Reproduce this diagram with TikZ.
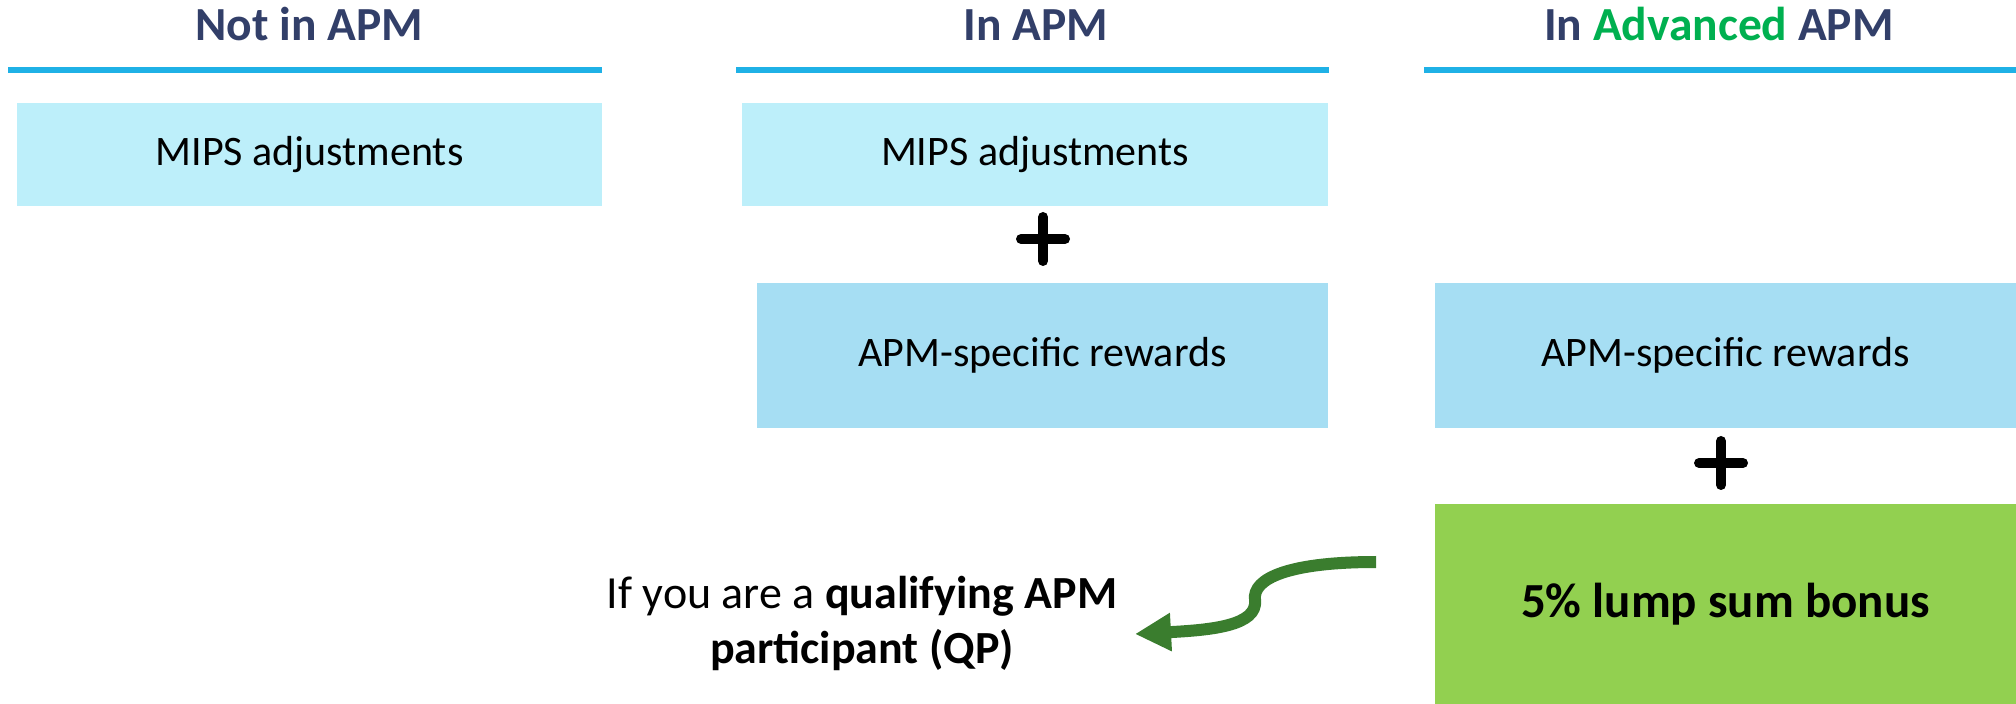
\documentclass[tikz,border=0pt]{standalone}
\usepackage{fontspec}
\setmainfont{Carlito}
\usepackage{xcolor}
\usetikzlibrary{arrows.meta}

\definecolor{titlenavy}{HTML}{323F69}
\definecolor{advgreen}{HTML}{00B050}
\definecolor{ruleblue}{HTML}{1FB1E6}
\definecolor{mipsfill}{HTML}{BDEFFA}
\definecolor{apmfill}{HTML}{A6DEF3}
\definecolor{bonusfill}{HTML}{92D050}
\definecolor{arrowgreen}{HTML}{3A7D2E}

\begin{document}
\begin{tikzpicture}[x=0.5pt, y=-0.5pt, >={Triangle[length=18pt,width=18pt]}]

	\tikzstyle{title}=[anchor=base, inner sep=0pt, text=titlenavy, font=\fontsize{23.75}{28}\selectfont\bfseries]
	\tikzstyle{rule}=[draw=ruleblue, line width=3pt]
	\tikzstyle{box}=[rectangle, inner sep=0pt, font=\fontsize{21}{25}\selectfont]
	\tikzstyle{plusmark}=[line width=5pt, line cap=round]

	\useasboundingbox (0,0) rectangle (2016,704);

	% column heads
	\node[title] (head1) at (309,41) {Not in APM};
	\node[title] (head2) at (1036,41) {In APM};
	\node[title] (head3) at (1719,41) {In \textcolor{advgreen}{Advanced} APM};
	\draw[rule] (8,70) -- (602,70);
	\draw[rule] (736,70) -- (1329,70);
	\draw[rule] (1424,70) -- (2016,70);

	% Not in APM
	\node[box, fill=mipsfill, minimum width=292.5pt, minimum height=51.5pt] (mips1) at (309.5,154.5) {MIPS adjustments};

	% In APM
	\node[box, fill=mipsfill, minimum width=293pt, minimum height=51.5pt] (mips2) at (1035,154.5) {MIPS adjustments};
	\node[box, fill=apmfill, minimum width=285.5pt, minimum height=72.5pt] (apm2) at (1042.5,355.5) {APM-specific rewards};
	\coordinate (plus1) at (1043,239);
	\draw[plusmark] (plus1) ++(-22,0) -- ++(44,0);
	\draw[plusmark] (plus1) ++(0,-22) -- ++(0,44);

	% In Advanced APM
	\node[box, fill=apmfill, minimum width=290.5pt, minimum height=72.5pt] (apm3) at (1725.5,355.5) {APM-specific rewards};
	\coordinate (plus2) at (1721,463);
	\draw[plusmark] (plus2) ++(-22,0) -- ++(44,0);
	\draw[plusmark] (plus2) ++(0,-22) -- ++(0,44);
	\node[box, fill=bonusfill, minimum width=290.5pt, minimum height=100pt, font=\fontsize{24.5}{29}\selectfont\bfseries] (bonus) at (1725.5,604) {5\% lump sum bonus};

	% QP note and its arrow
	\node[inner sep=0pt, align=center, font=\fontsize{23}{27.5}\selectfont] (qp) at (862,623) {If you are a \textbf{qualifying APM}\\\textbf{participant (QP)}};
	\coordinate (tail) at (1376,562);
	\coordinate (tip) at (1135,634);
	\draw[->, draw=arrowgreen, line width=6pt] (tail) .. controls (1290,562) and (1252,578) .. (1255,600)
		.. controls (1258,626) and (1210,630) .. (tip);

\end{tikzpicture}
\end{document}
